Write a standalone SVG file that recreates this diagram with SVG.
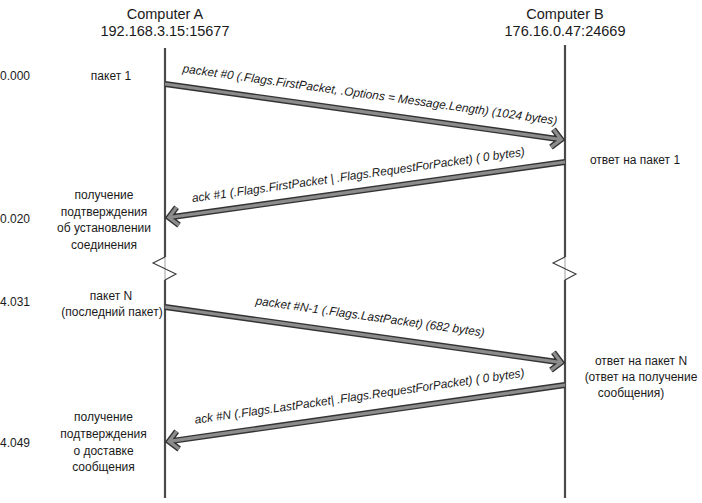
<svg xmlns="http://www.w3.org/2000/svg" width="702" height="503" viewBox="0 0 702 503">
<style>
text{font-family:"Liberation Sans",Arial,sans-serif;fill:#1a1a1a}
.title{font-size:14.5px;text-anchor:middle}
.lbl{font-size:12px;text-anchor:middle}
.time{font-size:12px;text-anchor:start}
.msg{font-size:12px;font-style:italic;text-anchor:middle}
.life{stroke:#4a4a4a;stroke-width:2.2;fill:none}
.gap{stroke:#c0c0c0;stroke-width:1.5;fill:none}
.zig{stroke:#3a3a3a;stroke-width:1.1;fill:none}
.ao{stroke:#333;stroke-width:6;fill:none;stroke-linejoin:miter;stroke-linecap:butt}
.ai{stroke:#8c8c8c;stroke-width:3.2;fill:none;stroke-linejoin:miter;stroke-linecap:butt}
</style>
<defs>
<path id="arr" d="M0,0 L400,0 M391,-9 L400,0 L391,9"/>
</defs>
<rect width="702" height="503" fill="#fff"/>

<g id="computerA">
<text class="title" x="165" y="18.5">Computer A</text>
<text class="title" x="165" y="36">192.168.3.15:15677</text>
<line class="life" x1="165" y1="48" x2="165" y2="257"/>
<line class="gap" x1="165" y1="257" x2="165" y2="280"/>
<polyline class="zig" points="165,257 153,263 176,274 165,280"/>
<line class="life" x1="165" y1="280" x2="165" y2="498"/>
</g>

<g id="computerB">
<text class="title" x="565" y="18.5">Computer B</text>
<text class="title" x="565" y="36">176.16.0.47:24669</text>
<line class="life" x1="565" y1="45" x2="565" y2="257"/>
<line class="gap" x1="565" y1="257" x2="565" y2="280"/>
<polyline class="zig" points="565,257 553,263 576,274 565,280"/>
<line class="life" x1="565" y1="280" x2="565" y2="498"/>
</g>

<g id="notesA">
<text class="time" x="0" y="80">0.000</text>
<text class="lbl" x="111" y="80">пакет 1</text>
<text class="lbl" x="104" y="199">получение</text>
<text class="lbl" x="104" y="215.5">подтверждения</text>
<text class="lbl" x="104" y="232">об установлении</text>
<text class="lbl" x="104" y="248.5">соединения</text>
<text class="time" x="0" y="223">0.020</text>
<text class="time" x="0" y="306">4.031</text>
<text class="lbl" x="111" y="300">пакет N</text>
<text class="lbl" x="112" y="316">(последний пакет)</text>
<text class="lbl" x="103.5" y="421">получение</text>
<text class="lbl" x="103.5" y="438">подтверждения</text>
<text class="lbl" x="103.5" y="454.5">о доставке</text>
<text class="lbl" x="103.5" y="471">сообщения</text>
<text class="time" x="0" y="447">4.049</text>
</g>

<g id="notesB">
<text class="lbl" x="635" y="164">ответ на пакет 1</text>
<text class="lbl" x="641" y="365">ответ на пакет N</text>
<text class="lbl" x="641" y="381">(ответ на получение</text>
<text class="lbl" x="631" y="397">сообщения)</text>
</g>

<g id="connectors">
<g transform="translate(165,84) rotate(7.97)"><use href="#arr" class="ao"/><use href="#arr" class="ai"/></g>
<g transform="translate(565,162) rotate(172.03)"><use href="#arr" class="ao"/><use href="#arr" class="ai"/></g>
<g transform="translate(165,307) rotate(7.97)"><use href="#arr" class="ao"/><use href="#arr" class="ai"/></g>
<g transform="translate(565,385) rotate(171.9)"><use href="#arr" class="ao"/><use href="#arr" class="ai"/></g>
<text class="msg" transform="translate(367.5,112.4) rotate(7.97)" x="0" y="-14" textLength="378" lengthAdjust="spacingAndGlyphs">packet #0 (.Flags.FirstPacket, .Options = Message.Length) (1024 bytes)</text>
<text class="msg" transform="translate(360.5,190.8) rotate(-8.01)" x="0" y="-12" textLength="336" lengthAdjust="spacingAndGlyphs">ack #1 (.Flags.FirstPacket  |  .Flags.RequestForPacket) ( 0 bytes)</text>
<text class="msg" transform="translate(367.5,335.4) rotate(7.97)" x="0" y="-15" textLength="231" lengthAdjust="spacingAndGlyphs">packet #N-1 (.Flags.LastPacket) (682 bytes)</text>
<text class="msg" transform="translate(362,414.1) rotate(-8.15)" x="0" y="-14" textLength="333" lengthAdjust="spacingAndGlyphs">ack #N (.Flags.LastPacket| .Flags.RequestForPacket) ( 0 bytes)</text>
</g>
</svg>
